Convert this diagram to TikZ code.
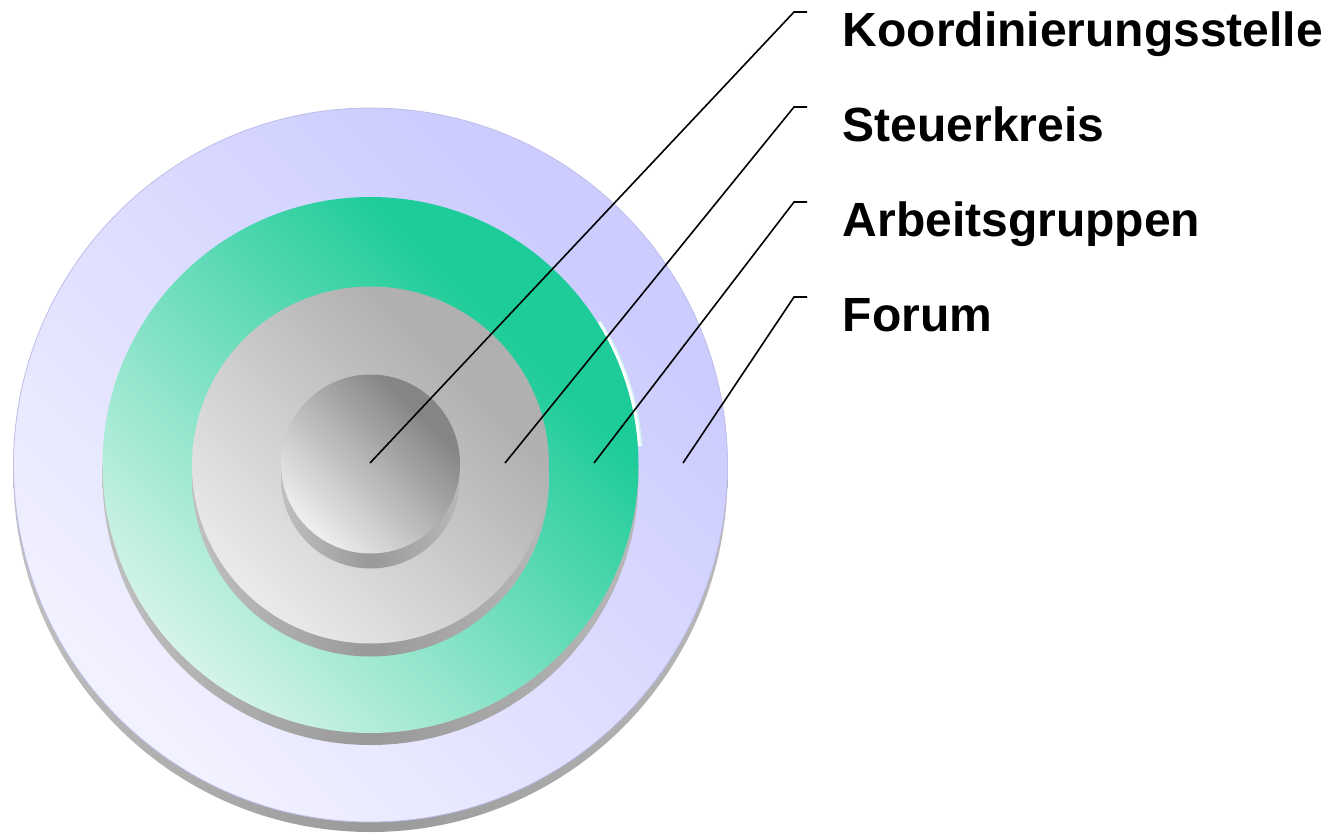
\documentclass[tikz,border=0pt]{standalone}
\usepackage{fontspec}
\setmainfont{Liberation Sans}
\definecolor{fw}{HTML}{F8F8FF}
\definecolor{fl}{HTML}{CCCCFF}
\definecolor{gw}{HTML}{F2FAF6}
\definecolor{gg}{HTML}{1ECC99}
\definecolor{sw}{HTML}{F4F4F4}
\definecolor{sg}{HTML}{B0B0B0}
\definecolor{kw}{HTML}{F6F6F6}
\definecolor{kg}{HTML}{858585}
\definecolor{s1}{HTML}{C8C8C8}
\definecolor{s2}{HTML}{999999}
\definecolor{s3}{HTML}{BEBEBE}
\definecolor{rim}{HTML}{BDBDEA}
\definecolor{hl}{HTML}{CFF5F0}
\pgfdeclarehorizontalshading{forumsh}{100bp}{color(0bp)=(fw); color(18bp)=(fw); color(70bp)=(fl); color(100bp)=(fl)}
\pgfdeclarehorizontalshading{agsh}{100bp}{color(0bp)=(gw); color(18bp)=(gw); color(68bp)=(gg); color(100bp)=(gg)}
\pgfdeclarehorizontalshading{stsh}{100bp}{color(0bp)=(sw); color(18bp)=(sw); color(68bp)=(sg); color(100bp)=(sg)}
\pgfdeclarehorizontalshading{kosh}{100bp}{color(0bp)=(kw); color(22bp)=(kw); color(70bp)=(kg); color(100bp)=(kg)}
\pgfdeclarehorizontalshading{sidesh}{100bp}{color(0bp)=(s1); color(20bp)=(s1); color(50bp)=(s2); color(80bp)=(s3); color(100bp)=(s3)}
\begin{document}
\begin{tikzpicture}[x=1pt,y=-1pt,
  side/.style={shading=sidesh},
  lbl/.style={anchor=base west,inner sep=0pt,font=\fontsize{48}{57}\selectfont\bfseries},
  lead/.style={line width=1.6pt,black}]
\useasboundingbox (0,0) rectangle (1342,833);
\coordinate (C) at (370.5,465);
% Forum
\shade[side] ([yshift=-10pt]C) circle (357pt);
\shade[shading=forumsh,shading angle=45] (C) circle (357pt);
\draw[rim,line width=0.8pt] (C) circle (357pt);
% Arbeitsgruppen
\shade[side] ([yshift=-12pt]C) circle (268pt);
\begin{scope}
  \clip (C) -- ([shift={(4:320pt)}]C) -- ([shift={(32:320pt)}]C) -- cycle;
  \fill[hl] ([xshift=4.5pt]C) circle (268pt);
  \fill[white] ([xshift=3pt]C) circle (268pt);
\end{scope}
\shade[shading=agsh,shading angle=45] (C) circle (268pt);
% Steuerkreis
\shade[side] ([yshift=-13pt]C) circle (178.5pt);
\shade[shading=stsh,shading angle=45] (C) circle (178.5pt);
% Koordinierungsstelle
\shade[side] ([yshift=-14pt]C) circle (89.5pt);
\shade[shading=kosh,shading angle=45] ([yshift=1pt]C) circle (89.5pt);
% labels
\node[lbl] (lk) at (842.5,46) {Koordinierungsstelle};
\node[lbl] (ls) at (842.5,141) {Steuerkreis};
\node[lbl] (la) at (842.5,236) {Arbeitsgruppen};
\node[lbl] (lf) at (842.5,331) {Forum};
% leader points
\coordinate (pk) at (370,463);
\coordinate (ps) at (505,463);
\coordinate (pa) at (594,463);
\coordinate (pf) at (683,463);
\coordinate (ck) at (794,12);
\coordinate (cs) at (794,107);
\coordinate (ca) at (794,202);
\coordinate (cf) at (794,297);
\coordinate (ek) at (807,12);
\coordinate (es) at (807,107);
\coordinate (ea) at (807,202);
\coordinate (ef) at (807,297);
\draw[lead] (pk) -- (ck) -- (ek);
\draw[lead] (ps) -- (cs) -- (es);
\draw[lead] (pa) -- (ca) -- (ea);
\draw[lead] (pf) -- (cf) -- (ef);
\end{tikzpicture}
\end{document}
